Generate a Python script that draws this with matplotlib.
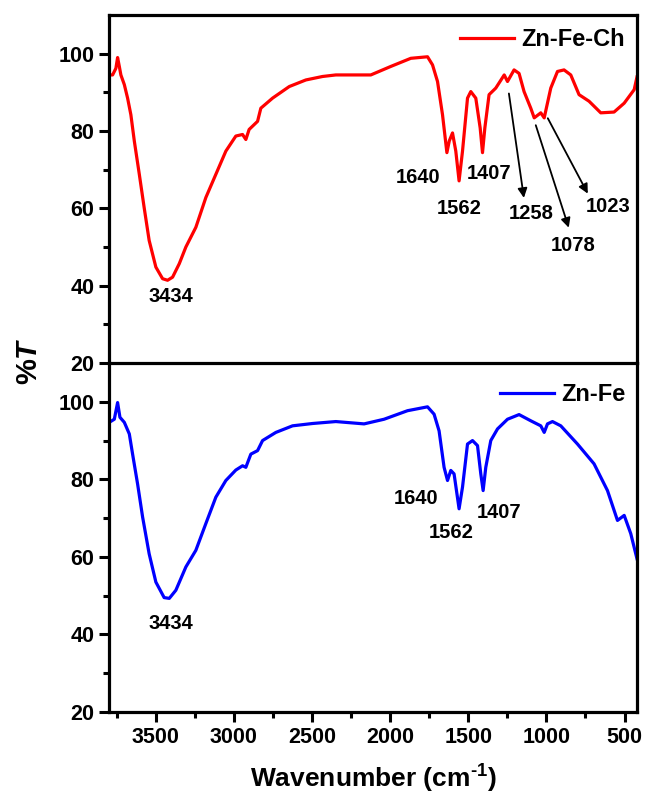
import numpy as np
import matplotlib
matplotlib.use("Agg")
import matplotlib.pyplot as plt

plt.rcParams['font.family'] = ['Liberation Sans', 'DejaVu Sans']
plt.rcParams['font.weight'] = 'bold'
plt.rcParams['mathtext.fontset'] = 'custom'
plt.rcParams['mathtext.rm'] = 'Liberation Sans:bold'
plt.rcParams['mathtext.bf'] = 'Liberation Sans:bold'
plt.rcParams['mathtext.it'] = 'Liberation Sans:italic:bold'

# Zn-Fe-Ch spectrum (wavenumber, %T)
wn_ch = [3798, 3777, 3756, 3745, 3734, 3724, 3702, 3681, 3660, 3638, 3606, 3575,
         3543, 3500, 3457, 3425, 3393, 3350, 3308, 3244, 3180, 3116, 3052, 2988,
         2945, 2924, 2903, 2849, 2828, 2753, 2646, 2540, 2433, 2348, 2252, 2124,
         1996, 1868, 1761, 1729, 1697, 1665, 1637, 1622, 1601, 1580, 1559, 1537,
         1505, 1484, 1452, 1424, 1409, 1394, 1367, 1324, 1270, 1249, 1207, 1175,
         1143, 1100, 1078, 1036, 1014, 972, 929, 887, 844, 791, 727, 652, 567,
         502, 438, 420]
t_ch = [94.5, 94.5, 96.2, 99.0, 96.7, 94.5, 92.0, 88.5, 84.2, 77.4, 68.8, 60.2,
        51.7, 44.8, 41.8, 41.4, 42.2, 45.7, 50.0, 55.1, 62.8, 68.8, 74.8, 78.7,
        79.1, 77.8, 80.4, 82.5, 85.9, 88.5, 91.5, 93.2, 94.1, 94.5, 94.5, 94.5,
        96.7, 98.8, 99.2, 97.1, 92.8, 84.2, 74.4, 77.4, 79.5, 74.8, 67.1, 74.8,
        88.5, 90.2, 88.5, 80.8, 74.4, 80.8, 89.4, 91.1, 94.5, 92.8, 95.8, 94.9,
        90.2, 85.9, 83.4, 84.7, 83.4, 91.1, 95.4, 95.8, 94.5, 89.4, 87.7, 84.7, 84.9,
        87.2, 90.7, 94.0]

# Zn-Fe spectrum
wn_fe = [3798, 3766, 3745, 3730, 3702, 3670, 3649, 3617, 3585, 3543, 3500, 3447,
         3414, 3372, 3308, 3244, 3180, 3116, 3052, 2988, 2945, 2924, 2892, 2849,
         2817, 2732, 2625, 2497, 2348, 2167, 2039, 1889, 1761, 1719, 1687, 1655,
         1633, 1612, 1591, 1559, 1537, 1505, 1473, 1441, 1420, 1405, 1388, 1356,
         1313, 1249, 1175, 1100, 1036, 1014, 993, 961, 908, 801, 695, 609, 545,
         502, 460, 420]
t_fe = [94.7, 95.5, 99.8, 96.0, 94.7, 91.7, 86.5, 78.8, 70.3, 60.8, 53.5, 49.5,
        49.3, 51.4, 57.4, 61.7, 68.6, 75.4, 79.7, 82.4, 83.5, 83.1, 86.5, 87.4,
        90.0, 92.1, 93.8, 94.4, 94.9, 94.3, 95.5, 97.7, 98.7, 96.8, 92.5, 83.1,
        79.7, 82.3, 81.4, 72.4, 78.0, 89.1, 90.0, 88.7, 81.4, 77.1, 83.1, 90.0,
        93.0, 95.5, 96.7, 95.1, 93.8, 92.1, 94.3, 94.9, 93.8, 89.1, 84.0, 77.1, 69.4,
        70.7, 66.0, 59.5]

# peak labels (text, x, y)
lab_ch = ['3434', '1640', '1562', '1407']
lab_ch_x = [3404, 1823, 1560, 1368]
lab_ch_y = [37.3, 67.9, 59.9, 68.9]

arr_ch = ['1258', '1078', '1023']
arr_ch_tx = [1100, 831, 607]
arr_ch_ty = [58.6, 50.4, 60.4]
arr_ch_x0 = [1240, 1068, 991]
arr_ch_y0 = [89.7, 81.5, 83.3]
arr_ch_x1 = [1144, 857, 735]
arr_ch_y1 = [62.7, 55.0, 63.8]

lab_fe = ['3434', '1640', '1562', '1407']
lab_fe_x = [3404, 1836, 1612, 1304]
lab_fe_y = [42.7, 75.0, 66.3, 71.5]

fig = plt.figure(figsize=(6.45, 7.98), dpi=100)
ax1 = fig.add_axes([0.169, 0.5451, 0.8186, 0.4361])
ax2 = fig.add_axes([0.169, 0.1078, 0.8186, 0.4373])

for ax in (ax1, ax2):
    ax.set_xlim(3800, 420)
    ax.set_ylim(20, 110)
    ax.set_yticks([20, 40, 60, 80, 100])
    ax.set_yticks([30, 50, 70, 90], minor=True)
    ax.set_xticks([3500, 3000, 2500, 2000, 1500, 1000, 500])
    ax.set_xticks([3750, 3250, 2750, 2250, 1750, 1250, 750], minor=True)
    for s in ax.spines.values():
        s.set_linewidth(2.3)
    ax.tick_params(axis='both', which='major', direction='out', length=7, width=2.2,
                   labelsize=15.5)
    ax.tick_params(axis='both', which='minor', direction='out', length=4, width=2.2)
    for lb in ax.get_yticklabels() + ax.get_xticklabels():
        lb.set_fontweight('bold')

ax1.tick_params(axis='x', which='both', bottom=False, labelbottom=False)
ax1.spines['bottom'].set_visible(False)

ax1.plot(wn_ch, t_ch, color='#ff0000', lw=2.3, label='Zn-Fe-Ch')
ax2.plot(wn_fe, t_fe, color='#0000ff', lw=2.3, label='Zn-Fe')

for t, x, y in zip(lab_ch, lab_ch_x, lab_ch_y):
    ax1.text(x, y, t, ha='center', va='center', fontsize=14.5, fontweight='bold')
for t, tx, ty, x0, y0, x1, y1 in zip(arr_ch, arr_ch_tx, arr_ch_ty, arr_ch_x0,
                                     arr_ch_y0, arr_ch_x1, arr_ch_y1):
    ax1.annotate('', xy=(x1, y1), xytext=(x0, y0),
                 arrowprops=dict(arrowstyle='-|>', color='black', lw=1.3,
                                 mutation_scale=14, shrinkA=0, shrinkB=0))
    ax1.text(tx, ty, t, ha='center', va='center', fontsize=14.5, fontweight='bold')
for t, x, y in zip(lab_fe, lab_fe_x, lab_fe_y):
    ax2.text(x, y, t, ha='center', va='center', fontsize=14.5, fontweight='bold')

leg_kw = dict(frameon=False, handlelength=2.3, handletextpad=0.3,
              prop={'weight': 'bold', 'size': 17}, borderaxespad=0.1)
ax1.legend(loc='upper right', bbox_to_anchor=(1.0, 0.997), **leg_kw)
ax2.legend(loc='upper right', bbox_to_anchor=(1.0, 0.977), **leg_kw)

ax2.set_xlabel(r'Wavenumber (cm$^{\text{-1}}$)', fontsize=19, fontweight='bold',
               labelpad=11)
fig.text(0.045, 0.548, r'%$\mathit{T}$', rotation=90, fontsize=21, fontweight='bold',
         ha='center', va='center')

fig.savefig('out.png', dpi=100)
